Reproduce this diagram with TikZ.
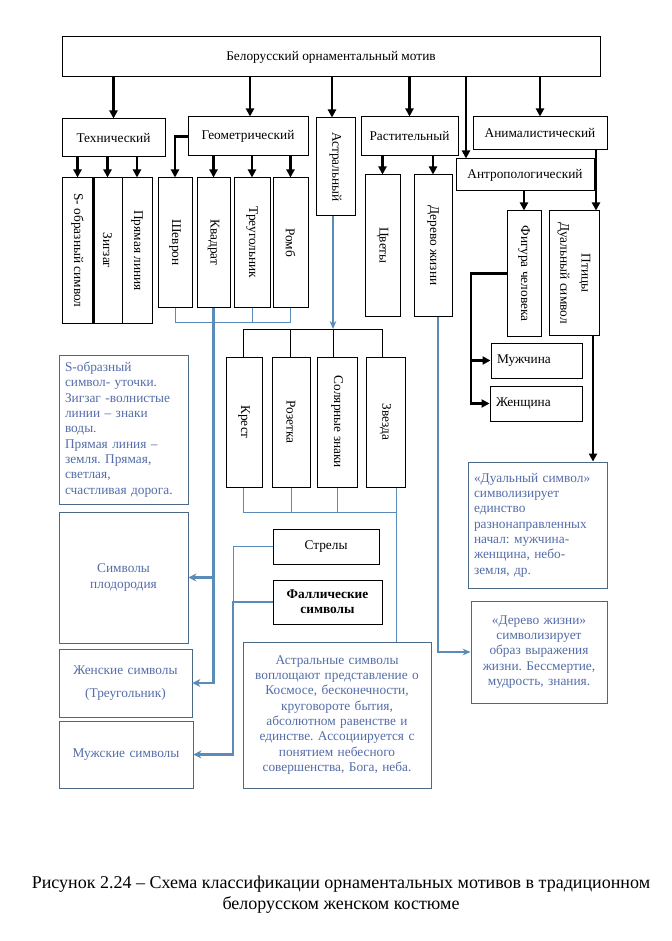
\documentclass[tikz,border=0pt]{standalone}
\usepackage{fontspec}
\setmainfont{Liberation Serif}
\usetikzlibrary{arrows.meta}
\frenchspacing
\definecolor{lineblue}{RGB}{91,140,185}
\definecolor{txtblue}{RGB}{84,108,168}
\definecolor{boxblue}{RGB}{75,105,135}
\newcommand\mkbox[7]{%
  \pgfmathsetmacro\bxcx{(#2+#4)/2}%
  \pgfmathsetmacro\bxcy{(#3+#5)/2}%
  \pgfmathsetmacro\bxw{(#4-#2)*0.75}%
  \pgfmathsetmacro\bxh{(#5-#3)*0.75}%
  \node[#6, minimum width=\bxw pt, minimum height=\bxh pt] (#1) at (\bxcx,\bxcy) {#7};}
\newcommand\mkdbox[7]{%
  \pgfmathsetmacro\bxcx{(#2+#4)/2}%
  \pgfmathsetmacro\bxcy{(#3+#5)/2}%
  \pgfmathsetmacro\bxw{(#4-#2)*0.75}%
  \pgfmathsetmacro\bxh{(#5-#3)*0.75}%
  \pgfmathsetmacro\bxtw{(#4-#2-12)*0.75}%
  \node[#6, inner xsep=4.5pt, text width=\bxtw pt, minimum width=\bxw pt, minimum height=\bxh pt] (#1) at (\bxcx,\bxcy) {#7};}
\newcommand\mkvbox[6]{%
  \mkbox{#1}{#2}{#3}{#4}{#5}{box}{}%
  \node[vtxt] (#1-t) at (#1.center) {#6};}
\begin{document}
\begin{tikzpicture}[x=0.75pt,y=-0.75pt,
  box/.style={draw=black, line width=0.75pt, inner sep=0pt, font=\fontsize{10}{12}\selectfont, align=center},
  dbox/.style={draw=boxblue, line width=0.65pt, text=txtblue, font=\fontsize{10}{11.5}\selectfont, inner ysep=0pt},
  vtxt/.style={rotate=-90, font=\fontsize{10}{12}\selectfont, align=center, inner sep=0pt},
  arr/.style={line width=1.6pt, -{Triangle[length=6pt,width=6pt]}},
  bline/.style={line width=0.75pt},
  thinblue/.style={draw=lineblue, line width=0.7pt},
  midblue/.style={draw=lineblue, line width=1.1pt, -{Stealth[length=6pt,width=5pt]}},
  thickbluearr/.style={draw=lineblue, line width=1.8pt, -{Stealth[length=6pt,width=6pt]}},
  captxt/.style={font=\fontsize{13.5}{16}\selectfont, inner sep=0pt},
]
\useasboundingbox (0,0) rectangle (671,941);
\fill[white] (0,0) rectangle (671,941);

% level 1 and 2
\mkbox{top}{62}{37}{600}{77}{box}{Белорусский орнаментальный мотив}
\mkbox{tech}{62}{119}{165}{157}{box}{Технический}
\mkbox{geo}{188}{117}{308}{156}{box}{Геометрический}
\mkvbox{astr}{316}{118}{355}{216}{Астральный}
\mkbox{rast}{361}{117}{458}{156}{box}{Растительный}
\mkbox{anim}{473}{117}{607}{150}{box}{Анималистический}
\mkbox{antro}{456}{159}{594}{191}{box}{Антропологический}

% level 3
\mkvbox{sob}{62}{178}{93}{323}{S- образный символ}
\mkvbox{zig}{93}{178}{122}{323}{Зигзаг}
\mkvbox{prl}{122}{178}{152}{323}{Прямая линия}
\draw[line width=1.6pt] (sob.north east) -- (sob.south east);
\mkvbox{shev}{158}{178}{192}{307}{Шеврон}
\mkvbox{kv}{197}{178}{230}{307}{Квадрат}
\mkvbox{tri}{234}{178}{270}{307}{Треугольник}
\mkvbox{romb}{273}{178}{308}{307}{Ромб}
\mkvbox{cvet}{365}{175}{400}{316}{Цветы}
\mkvbox{derevo}{414}{175}{452}{316}{Дерево жизни}
\mkvbox{fig}{507}{211}{541}{336}{Фигура человека}
\mkvbox{ptic}{549}{211}{599}{335}{Птицы\\[4pt]Дуальный символ}
\mkdbox{muzh}{491}{343}{582}{378}{box, align=left}{Мужчина}
\mkdbox{zhen}{490}{386}{582}{421}{box, align=left}{Женщина}

% astral subtypes
\mkvbox{krest}{226}{357}{262}{487}{Крест}
\mkvbox{roz}{272}{357}{310}{487}{Розетка}
\mkvbox{sol}{317}{357}{357}{487}{Солярные знаки}
\mkvbox{zv}{366}{357}{405}{487}{Звезда}

% description boxes
\mkdbox{sdesc}{59}{355}{188}{504}{dbox, align=left}{S-образный\\символ- уточки.\\Зигзаг -волнистые\\линии – знаки\\воды.\\Прямая линия –\\земля. Прямая,\\светлая,\\счастливая дорога.}
\mkdbox{plod}{59}{512}{188}{643}{dbox, align=center}{Символы\\плодородия}
\mkdbox{zhens}{59}{649}{192}{717}{dbox, align=center}{Женские символы\\[6pt](Треугольник)}
\mkdbox{muzhs}{59}{721}{193}{788}{dbox, align=center}{Мужские символы}
\mkbox{strely}{273}{529}{379}{564}{box}{Стрелы}
\mkbox{fall}{273}{580}{382}{624}{box, font=\fontsize{10}{11.5}\selectfont\bfseries}{Фаллические\\символы}
\mkdbox{astdesc}{243}{642}{431}{788}{dbox, align=center}{Астральные символы\\воплощают представление о\\Космосе, бесконечности,\\круговороте бытия,\\абсолютном равенстве и\\единстве. Ассоциируется с\\понятием небесного\\совершенства, Бога, неба.}
\mkdbox{dualdesc}{468}{462}{607}{588}{dbox, align=left}{«Дуальный символ»\\символизирует\\единство\\разнонаправленных\\начал: мужчина-\\женщина, небо-\\земля, др.}
\mkdbox{derdesc}{471}{601}{607}{703}{dbox, align=center}{«Дерево жизни»\\символизирует\\образ выражения\\жизни. Бессмертие,\\мудрость, знания.}

% caption
\node[captxt] (cap1) at (341,884) {Рисунок 2.24 – Схема классификации орнаментальных мотивов в традиционном};
\node[captxt] (cap2) at (341,905) {белорусском женском костюме};

% black arrows from the top
\draw[arr] (top.south -| tech.north) -- (tech.north);
\draw[arr] (top.south -| 250,0) -- (geo.north -| 250,0);
\draw[arr] (top.south -| 332,0) -- (astr.north -| 332,0);
\draw[arr] (top.south -| rast.north) -- (rast.north);
\draw[arr] (top.south -| 466,0) -- (antro.north -| 466,0);
\draw[arr] (top.south -| anim.north) -- (anim.north);

% level 2 -> level 3
\foreach \n in {sob,zig,prl} \draw[arr] (tech.south -| \n.north) -- (\n.north);
\draw[arr] (geo.west) -| (shev.north);
\foreach \n in {kv,tri,romb} \draw[arr] (geo.south -| \n.north) -- (\n.north);
\foreach \n in {cvet,derevo} \draw[arr] (rast.south -| \n.north) -- (\n.north);
\draw[arr] (antro.south -| fig.north) -- (fig.north);
\draw[arr] (anim.south -| 596,0) -- (ptic.north -| 596,0);
\coordinate (fz) at (471,0);
\draw[arr] (fig.west) -| (fz |- zhen.west) -- (zhen.west);
\draw[arr] (fz |- muzh.west) -- (muzh.west);
\draw[arr] (ptic.south -| 593,0) -- (dualdesc.north -| 593,0);

% astral tree
\coordinate (ajn) at (333,329);
\coordinate (atl) at (243,329);
\coordinate (atr) at (382,329);
\draw[bline] (krest.north -| atl) -- (atl) -- (atr) -- (zv.north -| atr);
\draw[bline] (roz.north -| 290,0) -- (290,329);
\draw[bline] (sol.north -| ajn) -- (ajn);
\draw[midblue] (astr.south -| ajn) -- (ajn);

% geometric bottom links
\draw[thinblue] (shev.south) -- (shev.south |- 0,322) -- (romb.south |- 0,322) -- (romb.south);
\draw[thinblue] (tri.south) -- (tri.south |- 0,322);
\draw[thickbluearr] (kv.south) |- (zhens.east);
\draw[thickbluearr] (kv.south |- plod.east) -- (plod.east);

% astral bottom links
\draw[thinblue] (krest.south -| 243,0) -- (243,512) -- (396,512);
\draw[thinblue] (roz.south) -- (roz.south |- 0,512);
\draw[thinblue] (sol.south) -- (sol.south |- 0,512);
\draw[thinblue] (zv.south -| 396,0) -- (astdesc.north -| 396,0);

% arrows / phallic
\coordinate (fj) at (233,0);
\draw[thinblue] (strely.west) -| (fj |- fall.west);
\draw[thickbluearr] (fall.west) -| (fj |- muzhs.east) -- (muzhs.east);

% tree of life
\draw[midblue] (derevo.south -| 438,0) |- (derdesc.west);
\end{tikzpicture}
\end{document}
